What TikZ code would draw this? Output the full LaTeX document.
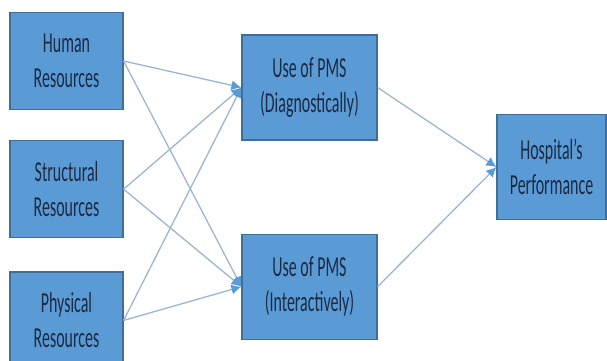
\documentclass[tikz,border=0pt]{standalone}
\usepackage{fontspec}
\newfontfamily\boxfont[FakeStretch=0.55]{Carlito}
\usetikzlibrary{positioning,arrows.meta}

\definecolor{boxblue}{HTML}{5B9BD5}
\definecolor{boxline}{HTML}{3F6E99}
\definecolor{linkblue}{HTML}{9CB6D2}
\definecolor{inkblue}{HTML}{1C2A44}

\begin{document}
\begin{tikzpicture}[
    x=1pt, y=1pt,
    every node/.style={draw=boxline, line width=1.2pt, fill=boxblue, align=center, inner sep=0pt,
        text=inkblue, font=\boxfont\fontsize{29}{35}\selectfont},
    resource/.style={minimum width=113pt, minimum height=97pt},
    usage/.style={minimum width=135pt, minimum height=105pt},
    outcome/.style={minimum width=109pt, minimum height=105pt},
    link/.style={draw=linkblue, line width=1.3pt, -{Latex[length=10pt,width=10pt,color=boxblue]}}
]
\useasboundingbox (0,0) rectangle (607,-360);

% inputs
\node[resource] (human) at (66.5,-61) {Human\\Resources};
\node[resource, below=30pt of human] (structural) {Structural\\Resources};
\node[resource, below=33pt of structural] (physical) {Physical\\Resources};

% use of the system
\node[usage] (diag) at (309.5,-87.5) {Use of PMS\\(Diagnostically)};
\node[usage, below=93pt of diag] (inter) {Use of PMS\\(Interactively)};

% result
\node[outcome] (hospital) at (551.5,-167) {Hospital’s\\Performance};

\foreach \src in {human,structural,physical} {
    \draw[link] (\src.east) -- (diag.west);
    \draw[link] (\src.east) -- (inter.west);
}
\draw[link] (diag.east) -- (hospital.west);
\draw[link] (inter.east) -- (hospital.west);

\end{tikzpicture}
\end{document}
